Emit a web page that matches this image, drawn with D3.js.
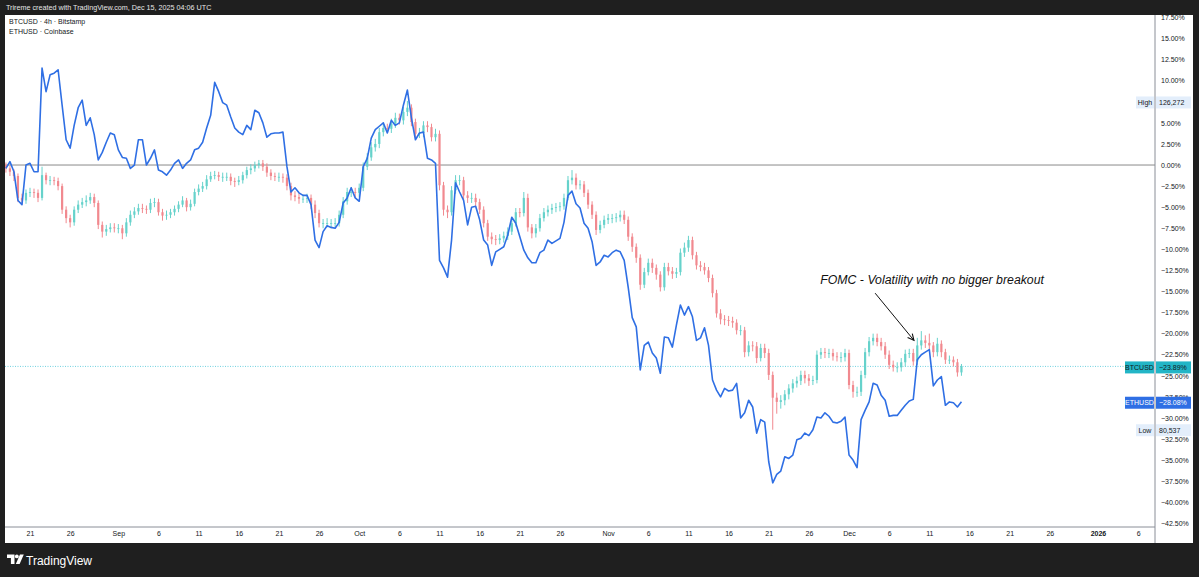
<!DOCTYPE html>
<html>
<head>
<meta charset="utf-8">
<script src="https://cdn.jsdelivr.net/npm/d3@7"></script>
<style>
  html, body { margin: 0; padding: 0; background: #1f1f1f; overflow: hidden; }
  svg { display: block; }
</style>
</head>
<body>
<svg id="chart" width="1199" height="577"></svg>
<script>
// percent change vs first bar, one value per 12h, starting 2025-08-18 00:00 UTC
const ethClose = [
  -0.4, 0.4, -0.8, -4.2, -4.7, 0.0, 0.2, -0.8, -0.8, 11.5,
  8.7, 10.7, 10.9, 11.3, 7.1, 3.0, 2.0, 4.7, 6.8, 7.7,
  4.7, 5.6, 3.6, 0.6, 1.5, 2.7, 3.8, 3.6, 1.8, 0.9,
  0.8, -0.4, 0.0, 3.0, 3.0, 0.0, 0.8, 1.8, -0.6, -0.8,
  -1.2, -0.6, 0.2, 0.6, -0.4, 0.2, 0.6, 1.8, 2.0, 2.7,
  4.4, 5.9, 9.8, 8.7, 7.4, 7.1, 5.7, 4.4, 3.9, 3.6,
  4.7, 4.2, 6.5, 6.2, 5.0, 3.3, 3.7, 3.8, 3.8, 3.9,
  -0.2, -3.2, -2.7, -3.3, -3.6, -3.6, -4.7, -8.9, -9.8, -7.9,
  -7.2, -7.4, -7.5, -6.8, -4.5, -3.9, -2.7, -3.9, -4.3, -0.2,
  0.8, 3.2, 4.2, 4.6, 5.0, 3.8, 5.3, 4.7, 5.0, 7.1,
  8.9, 5.6, 3.0, 3.8, 3.9, 0.8, 0.6, 0.2, -11.3, -12.2,
  -13.3, -8.9, -2.1, -3.2, -4.2, -7.1, -5.0, -4.9, -6.5, -8.9,
  -9.5, -11.9, -10.3, -10.0, -9.7, -8.3, -6.2, -6.9, -8.5, -10.1,
  -11.0, -11.6, -11.6, -10.4, -10.1, -8.9, -9.3, -9.0, -8.7, -6.8,
  -3.6, -3.1, -4.6, -5.1, -6.9, -7.5, -9.1, -11.9, -11.5, -10.7,
  -10.9, -10.4, -10.1, -10.3, -11.3, -14.5, -18.1, -19.2, -24.3, -21.4,
  -21.0, -22.3, -22.9, -24.7, -20.4, -20.5, -21.6, -19.0, -16.6, -17.8,
  -16.8, -18.0, -20.8, -20.5, -19.3, -21.4, -25.5, -26.7, -27.5, -26.5,
  -26.8, -26.7, -25.9, -30.0, -29.4, -27.9, -28.7, -31.8, -30.2, -30.5,
  -35.2, -37.7, -36.7, -36.3, -34.6, -34.8, -34.4, -32.6, -32.4, -31.8,
  -32.1, -31.4, -29.9, -30.0, -29.4, -29.8, -30.5, -30.6, -30.4, -29.9,
  -34.4, -35.0, -35.9, -30.2, -29.1, -28.1, -25.9, -26.1, -27.3, -27.9,
  -29.8, -29.7, -29.7, -29.1, -28.5, -28.0, -27.8, -23.1, -22.5, -22.2,
  -21.9, -26.2, -25.5, -25.1, -28.5, -28.1, -28.2, -28.7, -28.08
]

const btcClose = [
  -0.4, -0.8, -1.3, -3.9, -4.2, -3.3, -3.2, -3.3, -3.9, -1.2,
  -1.8, -1.8, -1.9, -2.5, -5.3, -6.3, -6.8, -5.3, -4.7, -4.4,
  -4.2, -3.8, -4.5, -7.1, -7.9, -7.6, -7.4, -7.5, -7.5, -8.1,
  -6.8, -5.9, -5.5, -5.1, -5.2, -5.3, -4.5, -4.4, -5.6, -6.0,
  -5.9, -5.6, -5.2, -4.7, -4.2, -5.0, -4.6, -3.2, -2.8, -2.5,
  -1.7, -1.3, -1.2, -1.4, -1.4, -1.4, -1.9, -2.0, -1.8, -1.2,
  -0.6, -0.4, 0.0, 0.2, -0.2, -0.9, -1.3, -1.4, -1.4, -1.5,
  -2.5, -3.6, -3.8, -4.0, -4.0, -3.9, -4.7, -5.7, -6.9, -6.9,
  -6.9, -6.9, -6.9, -5.9, -4.3, -3.2, -3.2, -3.3, -2.7, -0.2,
  0.9, 2.1, 2.5, 3.9, 4.4, 4.3, 4.9, 5.6, 5.3, 6.3,
  6.8, 5.1, 3.7, 3.8, 4.7, 4.5, 3.3, 3.7, -2.4, -5.3,
  -5.6, -3.0, -1.8, -1.8, -3.6, -3.9, -3.9, -4.4, -5.3, -6.9,
  -8.5, -8.8, -8.9, -8.7, -8.4, -7.9, -6.9, -5.6, -5.7, -3.9,
  -7.4, -8.1, -7.5, -6.3, -5.6, -5.3, -5.1, -5.0, -4.9, -3.9,
  -1.8, -1.5, -2.4, -2.3, -3.3, -4.7, -5.9, -7.7, -7.1, -6.5,
  -6.3, -6.3, -6.2, -5.9, -6.5, -8.5, -9.7, -11.0, -14.2, -12.7,
  -11.6, -12.2, -13.0, -14.5, -12.1, -12.6, -12.9, -12.7, -10.4, -9.8,
  -8.9, -10.7, -11.9, -12.1, -12.5, -13.4, -15.2, -17.6, -18.3, -18.4,
  -18.5, -18.7, -19.6, -19.6, -22.2, -21.4, -21.5, -22.9, -21.7, -22.3,
  -24.9, -27.6, -28.1, -27.9, -27.2, -26.5, -25.9, -25.6, -24.9, -25.3,
  -25.6, -25.5, -22.5, -22.2, -22.3, -22.3, -22.7, -22.8, -22.8, -22.3,
  -26.1, -26.9, -26.9, -24.9, -22.2, -20.9, -20.5, -21.0, -21.5, -22.5,
  -23.7, -24.0, -24.0, -23.4, -22.4, -22.3, -23.3, -21.4, -20.8, -21.1,
  -21.4, -22.2, -21.2, -22.2, -23.1, -23.1, -23.4, -24.6, -23.89
]

const btcHigh = [
  0.3, -0.1, -0.5, -1.0, -3.4, -2.9, -2.7, -2.8, -2.9, -0.2,
  -0.9, -1.3, -1.4, -1.5, -2.2, -4.9, -5.9, -4.9, -4.2, -3.9,
  -3.6, -3.3, -3.4, -4.2, -6.7, -7.1, -6.9, -6.9, -7.0, -7.1,
  -6.3, -5.4, -5.0, -4.6, -4.6, -4.8, -4.0, -3.9, -4.0, -5.2,
  -5.4, -5.2, -4.8, -4.3, -3.7, -3.9, -4.1, -2.8, -2.3, -2.0,
  -1.2, -0.8, -0.7, -0.8, -0.9, -0.9, -1.0, -1.5, -1.3, -0.8,
  -0.2, 0.1, 0.4, 0.6, 0.6, 0.2, -0.5, -0.9, -0.9, -1.0,
  -1.1, -2.1, -3.1, -3.3, -3.5, -3.4, -3.5, -4.2, -5.3, -6.4,
  -6.3, -6.4, -6.3, -5.4, -3.8, -2.7, -2.6, -2.7, -2.2, 0.3,
  1.4, 2.7, 3.1, 4.4, 5.0, 4.9, 5.5, 6.2, 6.1, 6.9,
  7.6, 7.2, 5.5, 4.4, 5.2, 5.2, 4.9, 4.3, 4.1, -2.0,
  -4.8, -2.5, -1.2, -1.2, -1.4, -3.1, -3.3, -3.4, -4.0, -4.9,
  -6.5, -8.0, -8.3, -8.2, -7.9, -7.4, -6.4, -5.1, -5.1, -3.2,
  -3.4, -7.0, -7.0, -5.8, -5.1, -4.8, -4.6, -4.5, -4.4, -3.4,
  -1.3, -0.6, -1.0, -1.8, -1.9, -2.9, -4.3, -5.5, -6.6, -6.0,
  -5.8, -5.8, -5.7, -5.4, -5.4, -6.1, -8.1, -9.3, -10.6, -12.2,
  -11.1, -11.1, -11.8, -12.6, -11.6, -11.6, -12.1, -12.2, -9.9, -9.2,
  -8.4, -8.5, -10.3, -11.4, -11.6, -12.1, -13.0, -14.8, -17.1, -17.8,
  -17.9, -18.0, -18.3, -19.0, -19.2, -20.9, -20.9, -21.0, -21.2, -21.2,
  -21.8, -24.5, -27.0, -27.3, -26.7, -26.0, -25.4, -25.1, -24.4, -24.4,
  -24.8, -25.0, -22.0, -21.7, -21.7, -21.8, -21.8, -22.2, -22.2, -21.8,
  -21.9, -25.6, -26.3, -24.4, -21.7, -20.4, -20.0, -20.0, -20.5, -21.0,
  -22.0, -23.2, -23.4, -22.9, -21.9, -21.8, -21.8, -20.5, -19.7, -20.2,
  -20.0, -21.0, -20.5, -20.8, -21.8, -22.6, -22.7, -23.0, -23.6
]

const btcLow = [
  -0.9, -1.3, -1.9, -4.4, -4.7, -4.6, -3.8, -3.9, -4.4, -4.2,
  -2.3, -2.4, -2.4, -3.0, -5.8, -6.9, -7.4, -7.2, -5.7, -5.1,
  -4.9, -4.6, -5.0, -7.6, -8.6, -8.4, -8.0, -8.0, -8.1, -8.8,
  -8.5, -7.2, -6.3, -5.9, -5.7, -5.8, -5.7, -5.0, -6.0, -6.6,
  -6.5, -6.3, -6.0, -5.6, -5.0, -5.5, -5.4, -4.9, -3.6, -3.2,
  -2.9, -2.0, -1.7, -1.9, -2.0, -1.9, -2.4, -2.6, -2.4, -2.2,
  -1.6, -1.1, -0.8, -0.4, -0.7, -1.4, -1.8, -1.9, -2.0, -2.1,
  -3.0, -4.2, -4.3, -4.6, -4.5, -4.5, -5.2, -6.3, -7.4, -7.5,
  -7.4, -7.5, -7.4, -7.3, -6.3, -4.7, -3.8, -3.9, -3.8, -3.1,
  -0.6, 0.5, 1.6, 2.0, 3.4, 3.8, 3.8, 4.4, 4.8, 4.8,
  5.8, 4.6, 3.2, 3.2, 3.3, 3.9, 2.8, 2.8, -3.0, -6.0,
  -6.3, -6.0, -3.4, -2.4, -4.1, -4.5, -4.5, -5.0, -5.8, -7.4,
  -9.0, -9.4, -9.5, -9.4, -9.2, -8.9, -8.3, -7.3, -6.2, -6.1,
  -7.9, -8.7, -8.6, -7.9, -6.7, -6.1, -5.8, -5.6, -5.5, -5.3,
  -4.2, -2.3, -2.9, -2.9, -3.8, -5.2, -6.4, -8.3, -8.1, -7.5,
  -7.0, -6.9, -6.8, -6.7, -7.0, -9.0, -10.3, -11.6, -14.8, -14.6,
  -13.1, -12.8, -13.6, -15.0, -14.9, -13.1, -13.5, -13.4, -13.1, -10.9,
  -10.3, -11.2, -12.4, -12.6, -13.0, -13.9, -15.7, -18.1, -18.9, -19.0,
  -19.1, -19.3, -20.1, -20.2, -22.8, -22.7, -22.1, -23.5, -23.3, -22.9,
  -25.5, -31.4, -29.5, -28.9, -28.5, -27.8, -27.0, -26.4, -26.1, -25.9,
  -26.2, -26.1, -25.9, -23.0, -22.9, -22.9, -23.2, -23.3, -23.4, -23.3,
  -26.6, -27.6, -27.5, -27.4, -25.3, -22.7, -21.4, -21.5, -22.0, -23.0,
  -24.2, -24.5, -24.6, -24.5, -23.9, -22.9, -23.8, -23.7, -21.9, -21.7,
  -21.9, -22.8, -22.7, -22.8, -23.6, -23.6, -23.9, -25.1, -25.0
]

// 7.50% sits under the "High" tag in the reference, so it is not listed
const priceTicks = [17.5, 15, 12.5, 10, 5, 2.5, 0, -2.5, -5, -7.5, -10, -12.5,
  -15, -17.5, -20, -22.5, -25, -27.5, -30, -32.5, -35, -37.5, -40, -42.5]

const timeTicks = ['2025-08-21', '2025-08-26', '2025-09-01', '2025-09-06', '2025-09-11',
  '2025-09-16', '2025-09-21', '2025-09-26', '2025-10-01', '2025-10-06', '2025-10-11',
  '2025-10-16', '2025-10-21', '2025-10-26', '2025-11-01', '2025-11-06', '2025-11-11',
  '2025-11-16', '2025-11-21', '2025-11-26', '2025-12-01', '2025-12-06', '2025-12-11',
  '2025-12-16', '2025-12-21', '2025-12-26', '2026-01-01', '2026-01-06']

const btcHighPrice = '126,272'
const btcLowPrice = '80,537'

const noteText = 'FOMC - Volatility with no bigger breakout'
const noteFrom = ['2025-12-04T06:00Z', -15.2]
const noteTo = ['2025-12-09T02:00Z', -20.8]
const noteAt = ['2025-11-27T10:00Z', -14.1]

const startTime = Date.UTC(2025, 7, 18)
const STEP = 12 * 3600 * 1000
const FONT = 'Liberation Sans, Arial, sans-serif'
const INK = '#131722'

const svgEl = document.getElementById('chart')
const svg = d3.select(svgEl)

const plot = { left: 5, right: 1155, top: 15, bottom: 527 }

// frame
svg.append('rect').attr('width', 1199).attr('height', 577).attr('fill', '#1f1f1f')
svg.append('rect').attr('x', 5).attr('y', 15).attr('width', 1188).attr('height', 528).attr('fill', '#ffffff')

svg.append('text')
  .attr('x', 6).attr('y', 10)
  .attr('fill', '#e6e6e6').attr('font-size', 7.2).attr('font-family', FONT)
  .text('Trireme created with TradingView.com, Dec 15, 2025 04:06 UTC')

const x = d3.scaleUtc()
  .domain([new Date('2025-08-21'), new Date('2026-01-06')])
  .range([30, 1138.1])

const y = d3.scaleLinear().domain([-42.5, 17.5]).range([523.3, 17.5])

svg.append('clipPath').attr('id', 'plotclip')
  .append('rect')
  .attr('x', plot.left).attr('y', plot.top)
  .attr('width', plot.right - plot.left).attr('height', plot.bottom - plot.top)

// zero line
svg.append('line')
  .attr('x1', plot.left).attr('x2', plot.right)
  .attr('y1', y(0)).attr('y2', y(0))
  .attr('stroke', '#8a8a8a').attr('stroke-width', 1)

const candles = btcClose.map((c, i) => ({
  t: new Date(startTime + i * STEP),
  o: i === 0 ? 0 : btcClose[i - 1],
  c,
  h: btcHigh[i],
  l: btcLow[i]
}))

const eth = ethClose.map((v, i) => ({ t: new Date(startTime + i * STEP), v }))

const body = svg.append('g').attr('clip-path', 'url(#plotclip)')

// BTC last price line
const lastBtc = btcClose[btcClose.length - 1]
body.append('line')
  .attr('x1', plot.left).attr('x2', plot.right)
  .attr('y1', y(lastBtc)).attr('y2', y(lastBtc))
  .attr('stroke', '#4cc9d9').attr('stroke-width', 1)
  .attr('stroke-dasharray', '1,1.5').attr('opacity', 0.8)

const upCol = '#66d2cb'
const downCol = '#f1898f'

const cg = body.selectAll('g.candle')
  .data(candles)
  .join('g')
  .attr('class', 'candle')

cg.append('line')
  .attr('x1', d => x(d.t)).attr('x2', d => x(d.t))
  .attr('y1', d => y(d.h)).attr('y2', d => y(d.l))
  .attr('stroke', d => (d.c >= d.o ? upCol : downCol))
  .attr('stroke-width', 1)

cg.append('rect')
  .attr('x', d => x(d.t) - 1.1)
  .attr('width', 2.2)
  .attr('y', d => y(Math.max(d.o, d.c)))
  .attr('height', d => Math.max(0.8, Math.abs(y(d.o) - y(d.c))))
  .attr('fill', d => (d.c >= d.o ? upCol : downCol))

body.append('path')
  .datum(eth)
  .attr('fill', 'none')
  .attr('stroke', '#2f6fe4')
  .attr('stroke-width', 1.6)
  .attr('stroke-linejoin', 'round')
  .attr('d', d3.line().x(d => x(d.t)).y(d => y(d.v)))

// legend
svg.append('text')
  .attr('x', 9).attr('y', 24)
  .attr('fill', INK).attr('font-size', 7).attr('font-family', FONT)
  .text('BTCUSD · 4h · Bitstamp')
svg.append('text')
  .attr('x', 9).attr('y', 34)
  .attr('fill', INK).attr('font-size', 7).attr('font-family', FONT)
  .text('ETHUSD · Coinbase')

// annotation
const n1 = [x(new Date(noteFrom[0])), y(noteFrom[1])]
const n2 = [x(new Date(noteTo[0])), y(noteTo[1])]
svg.append('text')
  .attr('x', x(new Date(noteAt[0]))).attr('y', y(noteAt[1]))
  .attr('fill', '#111').attr('font-size', 12.3).attr('font-style', 'italic')
  .attr('font-family', FONT)
  .text(noteText)
svg.append('line')
  .attr('x1', n1[0]).attr('y1', n1[1]).attr('x2', n2[0]).attr('y2', n2[1])
  .attr('stroke', '#111').attr('stroke-width', 1)
const ang = Math.atan2(n2[1] - n1[1], n2[0] - n1[0])
const head = [-0.45, 0.45].map(a => [n2[0] - 7 * Math.cos(ang + a), n2[1] - 7 * Math.sin(ang + a)])
svg.append('path')
  .attr('d', `M${head[0][0]},${head[0][1]}L${n2[0]},${n2[1]}L${head[1][0]},${head[1][1]}`)
  .attr('fill', 'none').attr('stroke', '#111').attr('stroke-width', 1.1)

// axes frame
svg.append('line')
  .attr('x1', plot.left).attr('x2', plot.right)
  .attr('y1', plot.bottom).attr('y2', plot.bottom)
  .attr('stroke', '#8a8e97').attr('stroke-width', 1)
svg.append('line')
  .attr('x1', plot.right).attr('x2', plot.right)
  .attr('y1', plot.top).attr('y2', 543)
  .attr('stroke', '#8a8e97').attr('stroke-width', 1)

const fmtPct = v => (v < 0 ? '\u2212' : '') + Math.abs(v).toFixed(2) + '%'

const yAxis = svg.append('g')
  .attr('transform', `translate(${plot.right},0)`)
  .call(d3.axisRight(y).tickValues(priceTicks).tickSize(0).tickPadding(6).tickFormat(fmtPct))
yAxis.select('.domain').remove()
yAxis.selectAll('text')
  .attr('fill', INK).attr('font-size', 7).attr('font-family', FONT)

const fmtTime = d => {
  if (d.getUTCMonth() === 0 && d.getUTCDate() === 1) return String(d.getUTCFullYear())
  if (d.getUTCDate() === 1) return d3.utcFormat('%b')(d)
  return String(d.getUTCDate())
}

const xAxis = svg.append('g')
  .attr('transform', `translate(0,${plot.bottom})`)
  .call(d3.axisBottom(x).tickValues(timeTicks.map(s => new Date(s))).tickSize(0).tickPadding(4.5).tickFormat(fmtTime))
xAxis.select('.domain').remove()
xAxis.selectAll('text')
  .attr('fill', INK).attr('font-size', 7).attr('font-family', FONT)
  .attr('font-weight', d => (d.getUTCMonth() === 0 && d.getUTCDate() === 1 ? 'bold' : null))

// price tags
function tag(yPos, label, value, bg, fg, labelW) {
  const g = svg.append('g')
  g.append('rect')
    .attr('x', plot.right - 1 - labelW).attr('y', yPos - 6)
    .attr('width', labelW).attr('height', 12).attr('fill', bg)
  g.append('rect')
    .attr('x', plot.right + 1).attr('y', yPos - 6)
    .attr('width', 35).attr('height', 12).attr('fill', bg)
  g.append('text')
    .attr('x', plot.right - 1 - labelW / 2).attr('y', yPos + 2.5)
    .attr('text-anchor', 'middle')
    .attr('fill', fg).attr('font-size', 7).attr('font-family', FONT)
    .text(label)
  g.append('text')
    .attr('x', plot.right + 4).attr('y', yPos + 2.5)
    .attr('fill', fg).attr('font-size', 7).attr('font-family', FONT)
    .text(value)
}

tag(y(d3.max(btcHigh)) + 1.5, 'High', btcHighPrice, '#e3eefb', INK, 18)
tag(y(d3.min(btcLow)) + 0.5, 'Low', btcLowPrice, '#e3eefb', INK, 18)
tag(y(lastBtc) + 1, 'BTCUSD', fmtPct(lastBtc), '#22b5c6', INK, 29)
tag(y(ethClose[ethClose.length - 1]) + 1, 'ETHUSD', fmtPct(ethClose[ethClose.length - 1]), '#2f6fe4', '#ffffff', 29)

// footer logo
const logo = svg.append('g').attr('fill', '#ffffff')
logo.append('path').attr('d', 'M7 554.5h7.5v9.5h-3.6v-6H7z')
logo.append('circle').attr('cx', 16.8).attr('cy', 556.4).attr('r', 1.9)
logo.append('path').attr('d', 'M20 554.5h3.8l-4.2 9.5h-3.8z')
svg.append('text')
  .attr('x', 26).attr('y', 564.5)
  .attr('fill', '#ffffff').attr('font-size', 12).attr('font-weight', 500)
  .attr('font-family', FONT)
  .text('TradingView')
</script>
</body>
</html>
